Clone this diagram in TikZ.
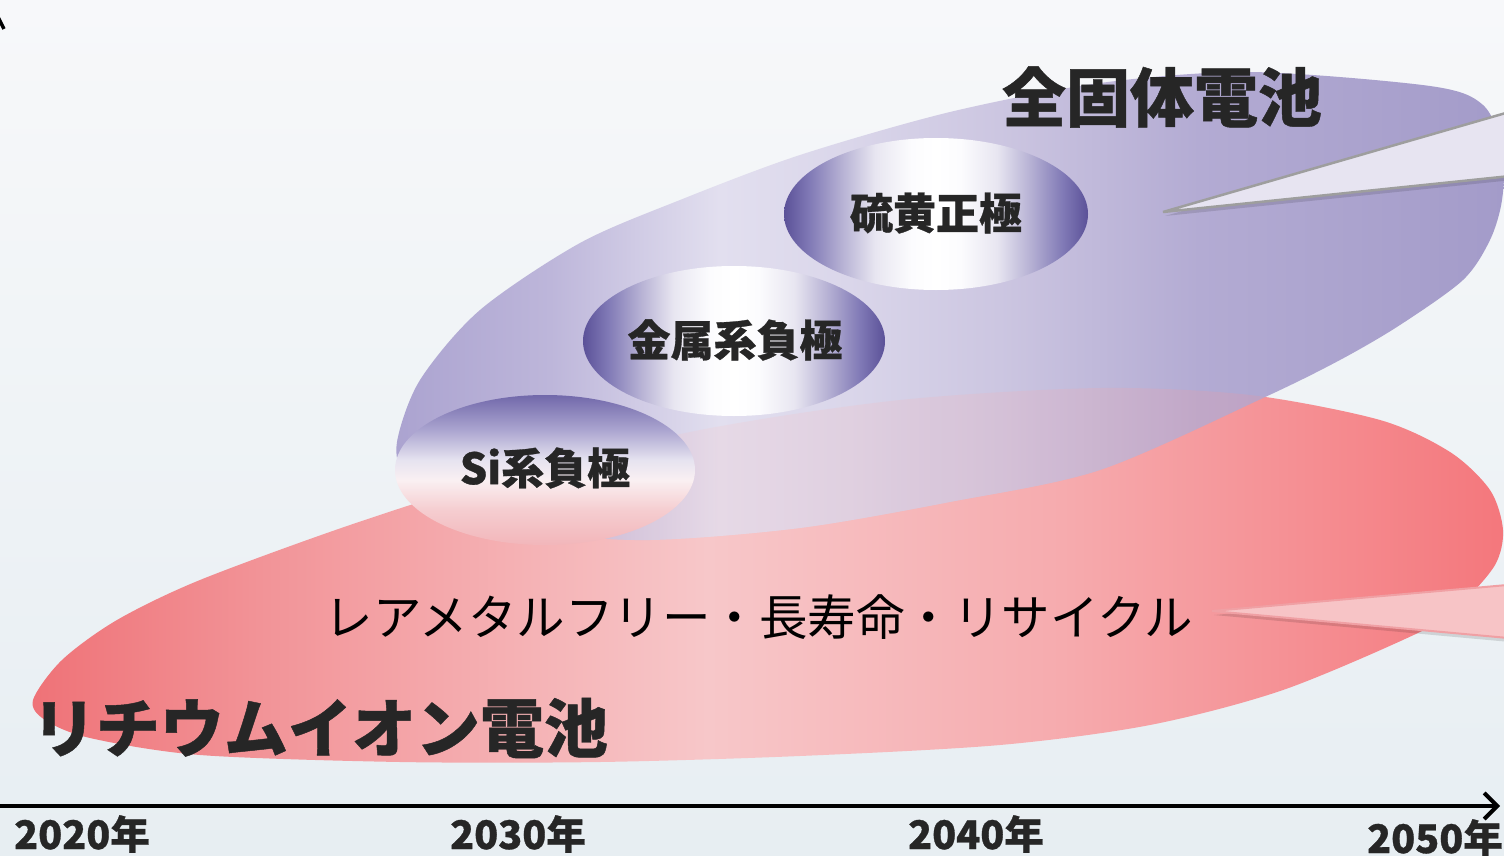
\documentclass[tikz,border=0pt]{standalone}
\usepackage{fontspec}
\newfontfamily\jp{Noto Sans CJK JP}
\newfontfamily\jph{Noto Sans CJK JP}[FakeBold=0.7]
\usetikzlibrary{arrows.meta}
\definecolor{bgtop}{HTML}{F7F8FA}
\definecolor{bgbot}{HTML}{E7EEF2}
\definecolor{txtdark}{HTML}{262626}
\definecolor{calloutP}{HTML}{E7E4F1}
\definecolor{calloutPline}{HTML}{9E9E9E}
\definecolor{calloutR}{HTML}{F7C4C6}
\definecolor{calloutRline}{HTML}{F0A0A4}
\definecolor{rA}{HTML}{EF7277}
\definecolor{rB}{HTML}{F29498}
\definecolor{rC}{HTML}{F7C7C9}
\definecolor{rD}{HTML}{F6ABAE}
\definecolor{rE}{HTML}{F4777C}
\definecolor{pA}{HTML}{ABA3D0}
\definecolor{pB}{HTML}{BDB6DA}
\definecolor{pC}{HTML}{E2DFEF}
\definecolor{pD}{HTML}{DAD6EA}
\definecolor{pE}{HTML}{CCC6E1}
\definecolor{pF}{HTML}{B3ABD3}
\definecolor{pG}{HTML}{A39BC9}
\definecolor{bA}{HTML}{5B5198}
\definecolor{bB}{HTML}{7F78B5}
\definecolor{bC}{HTML}{B8B3D5}
\definecolor{bD}{HTML}{E8E6F1}
\definecolor{bE}{HTML}{FCFCFE}
\definecolor{sA}{HTML}{F2B6BA}
\definecolor{sB}{HTML}{F5CDD0}
\definecolor{sC}{HTML}{FAF0F2}
\definecolor{sD}{HTML}{E6E3F0}
\definecolor{sE}{HTML}{ABA5D0}
\definecolor{sF}{HTML}{7168AA}
\pgfdeclarehorizontalshading{redsh}{100bp}{color(0bp)=(rA); color(25bp)=(rA); color(33bp)=(rB); color(48bp)=(rC); color(60bp)=(rD); color(75bp)=(rE); color(100bp)=(rE)}
\pgfdeclarehorizontalshading{purpsh}{100bp}{color(0bp)=(pA); color(25bp)=(pA); color(32bp)=(pB); color(39.6bp)=(pC); color(45.4bp)=(pD); color(52.2bp)=(pE); color(61.2bp)=(pF); color(75bp)=(pG); color(100bp)=(pG)}
\pgfdeclarehorizontalshading{bubblesh}{100bp}{color(0bp)=(bA); color(25bp)=(bA); color(29bp)=(bB); color(34.7bp)=(bC); color(40bp)=(bD); color(46bp)=(bE); color(50bp)=(white); color(54bp)=(bE); color(60bp)=(bD); color(65.3bp)=(bC); color(71bp)=(bB); color(75bp)=(bA); color(100bp)=(bA)}
\pgfdeclareverticalshading{sish}{100bp}{color(0bp)=(sA); color(25bp)=(sA); color(36.7bp)=(sB); color(46.7bp)=(sC); color(53.3bp)=(sD); color(63.3bp)=(sE); color(75bp)=(sF); color(100bp)=(sF)}
\tikzset{
  bigtitle/.style={inner sep=0pt, text=txtdark, font=\jph\bfseries\fontsize{64}{72}\selectfont},
  bubbletext/.style={inner sep=0pt, text=txtdark, font=\jph\bfseries\fontsize{43}{50}\selectfont},
  plaintext/.style={inner sep=0pt, text=black, font=\jp\fontsize{48.5}{55}\selectfont},
  yeartext/.style={inner sep=0pt, text=txtdark, font=\jph\bfseries\fontsize{39.5}{46}\selectfont},
  bubble/.style={shading=bubblesh},
  callP/.style={fill=calloutP, draw=calloutPline, line width=2.5pt, line join=miter},
  callR/.style={fill=calloutR, draw=calloutRline, line width=2pt, line join=miter},
  callshadow/.style={fill=black, opacity=0.12},
  axisline/.style={line width=4pt, -{Straight Barb[length=13pt,width=26pt]}}
}
\def\redpath{plot[smooth cycle] coordinates {(33,700) (62,660) (117,620) (200,580) (350,525) (500,478) (700,430) (900,400) (1100,388) (1250,395) (1380,420) (1450,452) (1490,490) (1503,530) (1495,565) (1460,605) (1420,632) (1283,690) (1150,725) (1000,745) (800,756) (600,762) (400,762) (200,755) (90,738) (45,720)}}
\def\purppath{plot[smooth cycle] coordinates {(397,442) (420,380) (480,310) (580,243) (680,200) (800,155) (950,112) (1100,83) (1250,72) (1430,86) (1483,105) (1503,150) (1502,200) (1490,240) (1463,280) (1400,325) (1340,360) (1263,398) (1100,470) (950,502) (800,528) (650,540) (540,532) (450,505) (405,475)}}
\begin{document}
\begin{tikzpicture}[x=1pt,y=-1pt]
\useasboundingbox (0,0) rectangle (1504,856);
\clip (0,0) rectangle (1504,856);
\shade[top color=bgtop, bottom color=bgbot] (0,0) rectangle (1504,856);
% lithium-ion region
\shade[shading=redsh] \redpath;
% all-solid-state region
\shade[shading=purpsh] \purppath;
\begin{scope}
  \clip \purppath;
  \shade[shading=redsh, opacity=0.21] \redpath;
\end{scope}
% bubbles
\shade[bubble] (936,214) ellipse [x radius=152, y radius=76];
\shade[bubble] (734,341) ellipse [x radius=151, y radius=75];
\shade[shading=sish] (545,470) ellipse [x radius=150, y radius=75];
% callouts
\coordinate (pTip) at (1163,212);
\coordinate (pAr) at (1530,106);
\coordinate (pBr) at (1530,174);
\coordinate (rTip) at (1212,611);
\coordinate (rAr) at (1530,583);
\coordinate (rBr) at (1530,640);
\fill[callshadow] ([shift={(2,4)}]pTip) -- ([shift={(2,4)}]pAr) -- ([shift={(2,4)}]pBr) -- cycle;
\draw[callP] (pTip) -- (pAr) -- (pBr) -- cycle;
\fill[callshadow] ([shift={(2,4)}]rTip) -- ([shift={(2,4)}]rAr) -- ([shift={(2,4)}]rBr) -- cycle;
\draw[callR] (rTip) -- (rAr) -- (rBr) -- cycle;
% texts
\node[bigtitle] (tAll) at (1162,97) {全固体電池};
\node[bigtitle] (tLi) at (320,728) {リチウムイオン電池};
\node[bubbletext] (tS) at (936,213) {硫黄正極};
\node[bubbletext] (tM) at (735,340) {金属系負極};
\node[bubbletext] (tSi) at (545,468) {Si系負極};
\node[plaintext] (tR) at (759,617) {レアメタルフリー・長寿命・リサイクル};
% axis
\coordinate (axL) at (0,806);
\coordinate (axR) at (1500,806);
\draw[axisline] (axL) -- (axR);
\coordinate (vA) at (-3,15);
\coordinate (vB) at (4,29);
\draw[line width=3.5pt] (vA) -- (vB);
\node[yeartext] (y1) at (82,834) {2020年};
\node[yeartext] (y2) at (518,834) {2030年};
\node[yeartext] (y3) at (976,834) {2040年};
\node[yeartext] (y4) at (1435,838) {2050年};
\end{tikzpicture}
\end{document}
